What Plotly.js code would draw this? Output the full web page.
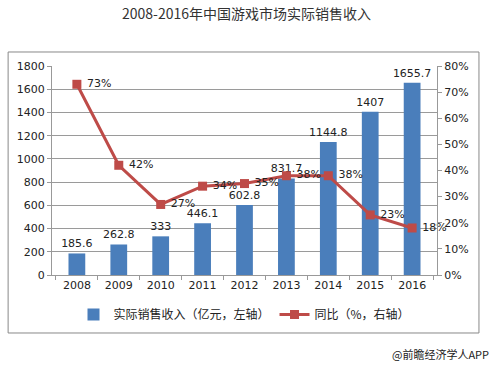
<!DOCTYPE html>
<html>
<head>
<meta charset="utf-8">
<script src="https://cdn.plot.ly/plotly-3.0.1.min.js"></script>
<style>html,body{margin:0;padding:0;background:#fff;}#chart{width:493px;height:369px;}</style>
</head>
<body>
<div id="chart"></div>
<script>
const years = ['2008','2009','2010','2011','2012','2013','2014','2015','2016'];
const revenue = [185.6, 262.8, 333, 446.1, 602.8, 831.7, 1144.8, 1407, 1655.7];
const growth = [73, 42, 27, 34, 35, 38, 38, 23, 18];
const revenueName = '实际销售收入（亿元，左轴）';
const growthName = '同比（%，右轴）';
const titleText = '2008-2016年中国游戏市场实际销售收入';
const sourceText = '@前瞻经济学人APP';

const font = 'DejaVu Sans, Arial, sans-serif';
const cjk = 'Noto Sans CJK SC, sans-serif';

const traces = [
  {
    type: 'bar', x: years, y: revenue, name: revenueName,
    marker: {color: '#4a7ebb'},
    text: revenue.map(String), textposition: 'outside', cliponaxis: false, constraintext: 'none',
    textfont: {family: font, size: 11, color: '#222'}
  },
  {
    type: 'scatter', mode: 'lines+markers+text', x: years, y: growth, yaxis: 'y2', name: growthName,
    line: {color: '#be4b48', width: 3},
    marker: {symbol: 'square', size: 9, color: '#be4b48'},
    text: growth.map(v => ' ' + v + '%'), textposition: 'middle right', cliponaxis: false,
    textfont: {family: font, size: 11, color: '#222'}
  }
];

const layout = {
  width: 493, height: 369,
  margin: {l: 52, r: 56, t: 66, b: 94},
  paper_bgcolor: '#fff', plot_bgcolor: '#fff',
  title: {text: titleText, x: 0.5, xanchor: 'center', y: 0.962, yanchor: 'middle',
          font: {family: cjk, size: 14, color: '#333'}},
  bargap: 0.6,
  showlegend: true,
  legend: {orientation: 'h', x: 0.5, xanchor: 'center', y: -0.12, yanchor: 'top',
           font: {family: cjk, size: 12, color: '#222'}, itemwidth: 30, traceorder: 'normal'},
  xaxis: {type: 'category', showline: true, linecolor: '#999', ticks: 'outside', tickson: 'boundaries',
          ticklen: 4, tickcolor: '#999', tickfont: {family: font, size: 11, color: '#222'}, showgrid: false},
  yaxis: {range: [0, 1800], dtick: 200, showline: true, linecolor: '#999', ticks: 'outside', ticklen: 4,
          tickcolor: '#999', gridcolor: '#9a9a9a', gridwidth: 1, zeroline: false,
          tickfont: {family: font, size: 11, color: '#222'}},
  yaxis2: {range: [0, 80], dtick: 10, ticksuffix: '%', overlaying: 'y', side: 'right', showline: true,
           linecolor: '#999', ticks: 'outside', ticklen: 4, tickcolor: '#999', showgrid: false, zeroline: false,
           tickfont: {family: font, size: 11, color: '#222'}},
  shapes: [{type: 'rect', xref: 'paper', yref: 'paper', x0: -0.114, x1: 1.109, y0: -0.2775, y1: 1.067,
            line: {color: '#888', width: 1}, fillcolor: 'rgba(0,0,0,0)'}],
  annotations: [{text: sourceText, xref: 'paper', yref: 'paper', x: 1.14, y: -0.38, xanchor: 'right', yanchor: 'middle',
                 showarrow: false, font: {family: cjk, size: 11, color: '#222'}}]
};

Plotly.newPlot('chart', traces, layout, {displayModeBar: false, staticPlot: true});
</script>
</body>
</html>
